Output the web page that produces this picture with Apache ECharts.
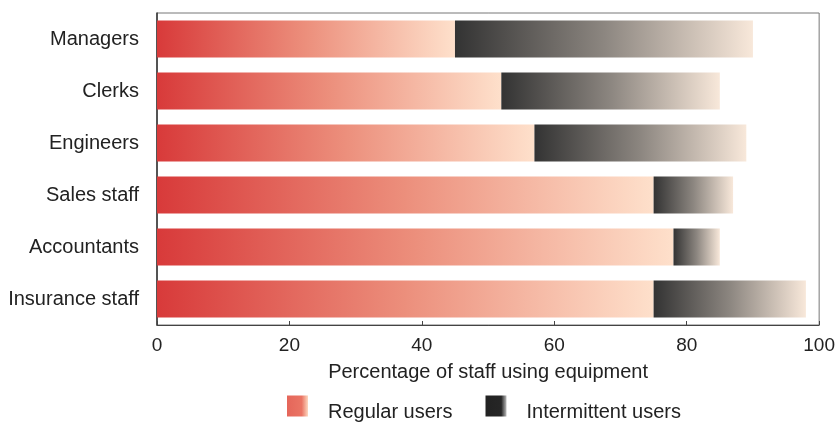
<!DOCTYPE html>
<html>
<head>
<meta charset="utf-8">
<script src="https://cdn.jsdelivr.net/npm/echarts@6/dist/echarts.min.js"></script>
<style>
html,body{margin:0;padding:0;background:#fff;}
#chart{width:838px;height:423px;}
</style>
</head>
<body>
<div id="chart"></div>
<script>
var categories = ['Managers', 'Clerks', 'Engineers', 'Sales staff', 'Accountants', 'Insurance staff'];
var regularUsers = [45, 52, 57, 75, 78, 75];
var intermittentUsers = [45, 33, 32, 12, 7, 23];
var xTicks = [0, 20, 40, 60, 80, 100];

var font = '"Liberation Sans", Arial, Helvetica, sans-serif';
var regGrad = new echarts.graphic.LinearGradient(0, 0, 1, 0, [
  {offset: 0, color: '#d83a3a'},
  {offset: 0.5, color: '#ec8f7c'},
  {offset: 1, color: '#fee0cb'}
]);
var intGrad = new echarts.graphic.LinearGradient(0, 0, 1, 0, [
  {offset: 0, color: '#333333'},
  {offset: 0.5, color: '#8c8680'},
  {offset: 1, color: '#f8e8da'}
]);
var legRegGrad = new echarts.graphic.LinearGradient(0, 0, 1, 0, [
  {offset: 0, color: '#e5665a'},
  {offset: 0.7, color: '#ea7464'},
  {offset: 1, color: '#fdd7bf'}
]);
var legIntGrad = new echarts.graphic.LinearGradient(0, 0, 1, 0, [
  {offset: 0, color: '#222'},
  {offset: 0.75, color: '#262626'},
  {offset: 1, color: '#bbb'}
]);

var chart = echarts.init(document.getElementById('chart'), null, {renderer: 'canvas'});
chart.setOption({
  animation: false,
  textStyle: {fontFamily: font},
  grid: {left: 157, right: 18, top: 13, bottom: 98, show: true, borderColor: '#777', borderWidth: 1},
  legend: {
    bottom: -4,
    left: 282,
    icon: 'rect',
    itemWidth: 21,
    itemHeight: 21,
    itemGap: 33,
    formatter: '{t|{name}}',
    textStyle: {
      fontSize: 20, color: '#222', fontFamily: font, padding: [0, 0, 0, 15],
      rich: {t: {fontSize: 20, color: '#222', fontFamily: font, padding: [12, 0, 0, 0]}}
    },
    data: [
      {name: 'Regular users', itemStyle: {color: legRegGrad}},
      {name: 'Intermittent users', itemStyle: {color: legIntGrad}}
    ]
  },
  xAxis: {
    type: 'value',
    min: xTicks[0],
    max: xTicks[xTicks.length - 1],
    interval: 20,
    name: 'Percentage of staff using equipment',
    nameLocation: 'middle',
    nameGap: 37,
    nameTextStyle: {fontSize: 20, color: '#222', fontFamily: font},
    axisLine: {show: true, lineStyle: {color: '#444', width: 1}},
    axisTick: {show: true, inside: true, length: 4, lineStyle: {color: '#444'}},
    axisLabel: {fontSize: 19, color: '#222', margin: 11, fontFamily: font},
    splitLine: {show: false}
  },
  yAxis: {
    type: 'category',
    data: categories,
    inverse: true,
    axisLine: {show: true, lineStyle: {color: '#333', width: 1.5}},
    axisTick: {show: false},
    axisLabel: {fontSize: 20, color: '#222', margin: 18, fontFamily: font}
  },
  series: [
    {
      name: 'Regular users',
      type: 'bar',
      stack: 'total',
      barCategoryGap: '29%',
      data: regularUsers,
      itemStyle: {color: regGrad}
    },
    {
      name: 'Intermittent users',
      type: 'bar',
      stack: 'total',
      data: intermittentUsers,
      itemStyle: {color: intGrad}
    }
  ]
});
</script>
</body>
</html>
